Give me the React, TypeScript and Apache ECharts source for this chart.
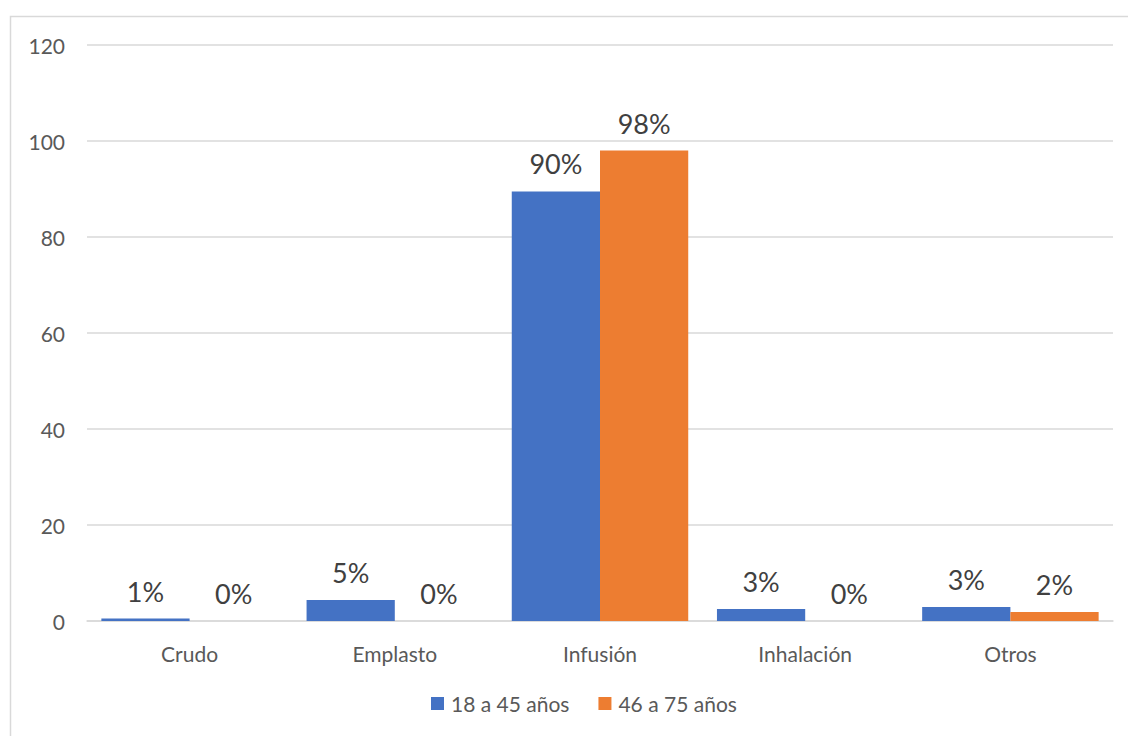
import React, { useEffect, useRef } from "react";
import * as echarts from "echarts";

const categories = ["Crudo", "Emplasto", "Infusión", "Inhalación", "Otros"];
const seriesNames = ["18 a 45 años", "46 a 75 años"];
const youngValues = [0.5, 4.4, 89.5, 2.5, 2.9];
const oldValues = [0, 0, 98, 0, 1.9];
const youngLabels = ["1%", "5%", "90%", "3%", "3%"];
const oldLabels = ["0%", "0%", "98%", "0%", "2%"];
const yTicks = [0, 20, 40, 60, 80, 100, 120];

const FONT = "Lato, 'Open Sans', sans-serif";

export default function App() {
  const ref = useRef<HTMLDivElement>(null);
  useEffect(() => {
    document.body.style.margin = "0";
    const chart = echarts.init(ref.current!, null, { renderer: "svg" });
    const mkLabel = (labels: string[]) => ({
      show: true,
      position: "top",
      distance: 14,
      fontSize: 27,
      color: "#404040",
      fontFamily: FONT,
      formatter: (p: any) => labels[p.dataIndex],
    });
    chart.setOption({
      animation: false,
      backgroundColor: "#ffffff",
      textStyle: { fontFamily: FONT },
      graphic: [
        {
          type: "rect",
          shape: { x: 10.5, y: 16.5, width: 1130, height: 740 },
          style: { fill: "none", stroke: "#d9d9d9", lineWidth: 1.5 },
          silent: true,
        },
      ],
      grid: { left: 87, right: 15, top: 45, bottom: 115, containLabel: false },
      legend: {
        bottom: 17,
        left: 426,
        itemWidth: 13,
        itemHeight: 13,
        itemGap: 29,
        icon: "rect",
        textStyle: { fontSize: 21, color: "#595959", fontFamily: FONT, padding: [0, 0, 0, 2] },
        data: seriesNames,
      },
      xAxis: {
        type: "category",
        data: categories,
        axisLine: { lineStyle: { color: "#d9d9d9", width: 1.5 } },
        axisTick: { show: false },
        axisLabel: { fontSize: 21, color: "#595959", margin: 22, fontFamily: FONT },
      },
      yAxis: {
        type: "value",
        min: yTicks[0],
        max: yTicks[yTicks.length - 1],
        interval: 20,
        axisLine: { show: false },
        axisTick: { show: false },
        splitLine: { lineStyle: { color: "#d9d9d9", width: 1.5 } },
        axisLabel: { fontSize: 21, color: "#595959", margin: 22, fontFamily: FONT },
      },
      series: [
        {
          name: seriesNames[0],
          type: "bar",
          data: youngValues,
          barGap: "0%",
          barCategoryGap: "14%",
          itemStyle: { color: "#4472c4" },
          label: mkLabel(youngLabels),
        },
        {
          name: seriesNames[1],
          type: "bar",
          data: oldValues,
          barGap: "0%",
          barCategoryGap: "14%",
          itemStyle: { color: "#ed7d31" },
          label: mkLabel(oldLabels),
        },
      ],
    });
    return () => chart.dispose();
  }, []);
  return (
    <div
      ref={ref}
      style={{ position: "absolute", left: 0, top: 0, width: 1128, height: 736 }}
    />
  );
}
